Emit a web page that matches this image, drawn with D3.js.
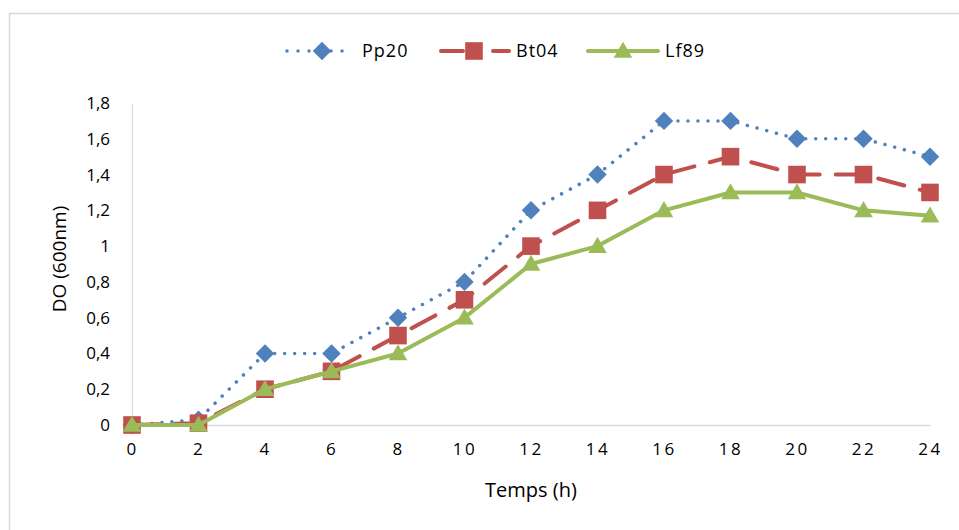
<!DOCTYPE html>
<html>
<head>
<meta charset="utf-8">
<script src="https://cdn.jsdelivr.net/npm/d3@7"></script>
<style>
  html, body { margin: 0; padding: 0; background: #fff; }
  svg { display: block; font-family: "Open Sans", sans-serif; }
</style>
</head>
<body>
<svg id="chart" width="959" height="530"></svg>
<script>
// Growth curves: optical density at 600 nm over 24 hours
const hours = [0, 2, 4, 6, 8, 10, 12, 14, 16, 18, 20, 22, 24];
const pp20 = [0, 0.03, 0.4, 0.4, 0.6, 0.8, 1.2, 1.4, 1.7, 1.7, 1.6, 1.6, 1.5];
const bt04 = [0, 0.01, 0.2, 0.3, 0.5, 0.7, 1.0, 1.2, 1.4, 1.5, 1.4, 1.4, 1.3];
const lf89 = [0, 0, 0.2, 0.3, 0.4, 0.6, 0.9, 1.0, 1.2, 1.3, 1.3, 1.2, 1.17];
const yTicks = [0, 0.2, 0.4, 0.6, 0.8, 1, 1.2, 1.4, 1.6, 1.8];
const seriesNames = ["Pp20", "Bt04", "Lf89"];

// marker shapes: square rotated 45° for the diamond
const series = [
  { name: seriesNames[0], values: pp20, color: "#4F81BD", symbol: d3.symbolSquare, rot: 45, dy: 0, size: 170, dash: "0.01 10", legendDash: "0.01 11", width: 3.5 },
  { name: seriesNames[1], values: bt04, color: "#C0504D", symbol: d3.symbolSquare, rot: 0, dy: 0, size: 310, dash: "27 16", legendDash: "22 30", width: 4 },
  { name: seriesNames[2], values: lf89, color: "#9BBB59", symbol: d3.symbolTriangle, rot: 0, dy: 1.5, size: 150, dash: null, legendDash: null, width: 4 }
];

const svg = d3.select("#chart");

// outer chart frame
svg.append("rect")
  .attr("x", 9.5).attr("y", 13.5)
  .attr("width", 960).attr("height", 530)
  .attr("fill", "none").attr("stroke", "#d9d9d9").attr("stroke-width", 1.5);

const x = d3.scaleLinear().domain([0, 24]).range([132, 930]);
const y = d3.scaleLinear().domain([0, 1.8]).range([425, 103]);

const fmt = d => d3.format("~g")(d).replace(".", ",");

// y axis
const yAxis = svg.append("g")
  .attr("transform", `translate(${x(0)},0)`)
  .call(d3.axisLeft(y).tickValues(yTicks).tickSize(0).tickPadding(22).tickFormat(fmt));
yAxis.select(".domain").attr("stroke", "#d9d9d9").attr("stroke-width", 1.2);
yAxis.selectAll("text")
  .attr("font-family", "Open Sans, sans-serif")
  .attr("font-size", 17).attr("fill", "#000");

// x axis
const xAxis = svg.append("g")
  .attr("transform", `translate(0,${y(0)})`)
  .call(d3.axisBottom(x).tickValues(hours).tickSize(0).tickPadding(18).tickFormat(d3.format("d")));
xAxis.select(".domain").attr("stroke", "#d9d9d9").attr("stroke-width", 1.5);
xAxis.selectAll("text")
  .attr("font-family", "Open Sans, sans-serif")
  .attr("font-size", 17).attr("fill", "#000")
  .attr("letter-spacing", 2.5);

// axis titles
svg.append("text")
  .attr("x", 531).attr("y", 497)
  .attr("text-anchor", "middle")
  .attr("font-size", 20).attr("fill", "#000")
  .text("Temps (h)");

svg.append("text")
  .attr("transform", "translate(66,259) rotate(-90)")
  .attr("text-anchor", "middle")
  .attr("font-size", 19).attr("fill", "#000")
  .text("DO (600nm)");

// series lines and markers
const line = d3.line().x((d, i) => x(hours[i])).y(d => y(d));

series.forEach(s => {
  svg.append("path")
    .datum(s.values)
    .attr("d", line)
    .attr("fill", "none")
    .attr("stroke", s.color)
    .attr("stroke-width", s.width)
    .attr("stroke-linecap", "round")
    .attr("stroke-linejoin", "round")
    .attr("stroke-dasharray", s.dash);

  svg.append("g").selectAll("path")
    .data(s.values)
    .join("path")
    .attr("transform", (d, i) => `translate(${x(hours[i])},${y(d) + s.dy}) rotate(${s.rot})`)
    .attr("d", d3.symbol().type(s.symbol).size(s.size))
    .attr("fill", s.color);
});

// legend
const legendItems = [
  { x0: 287, x1: 347, mx: 322, tx: 362 },
  { x0: 441, x1: 509, mx: 474, tx: 516 },
  { x0: 588, x1: 658, mx: 623, tx: 665 }
];
const ly = 51;
series.forEach((s, i) => {
  const L = legendItems[i];
  const g = svg.append("g");
  g.append("line")
    .attr("x1", L.x0).attr("x2", L.x1).attr("y1", ly).attr("y2", ly)
    .attr("stroke", s.color)
    .attr("stroke-width", s.width)
    .attr("stroke-linecap", "round")
    .attr("stroke-dasharray", s.legendDash);
  g.append("path")
    .attr("transform", `translate(${L.mx},${ly + s.dy}) rotate(${s.rot})`)
    .attr("d", d3.symbol().type(s.symbol).size(s.size))
    .attr("fill", s.color);
  g.append("text")
    .attr("x", L.tx).attr("y", ly)
    .attr("dy", "0.35em")
    .attr("font-size", 18).attr("fill", "#000")
    .attr("letter-spacing", 1)
    .text(s.name);
});
</script>
</body>
</html>
